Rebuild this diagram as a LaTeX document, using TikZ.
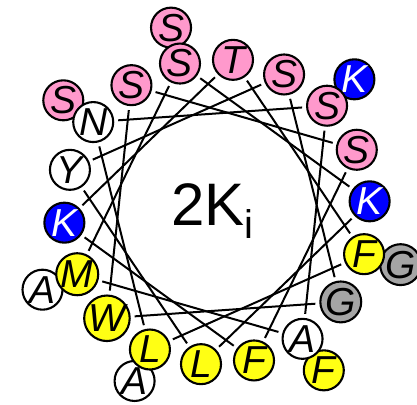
\documentclass[tikz,border=0pt]{standalone}
\usepackage{fontspec}
\setmainfont{Liberation Sans}
\begin{document}
\begin{tikzpicture}[x=1pt,y=1pt,
  res/.style={circle,draw=black,line width=2.1pt,minimum size=40pt,inner sep=0pt,font=\fontsize{39}{39}\selectfont\itshape},
  stres/.style={res,fill=wheelpink},
  lysres/.style={res,fill=wheelblue,text=white},
  hydres/.style={res,fill=wheelyellow},
  glyres/.style={res,fill=wheelgray},
  neures/.style={res,fill=white},
  link/.style={line width=2pt,shorten <=4pt,shorten >=4pt}]
\definecolor{wheelpink}{RGB}{255,153,204}
\definecolor{wheelblue}{RGB}{0,0,255}
\definecolor{wheelyellow}{RGB}{255,255,20}
\definecolor{wheelgray}{RGB}{165,165,165}
\useasboundingbox (-217,-192) rectangle (200,212);
\node[stres] (o0) at (104:190) {S};
\node[lysres] (o3) at (44:191) {K};
\node[glyres] (o6) at (-16:191) {G};
\node[hydres] (o8) at (-56:191) {F};
\node[neures] (o11) at (-116:188) {A};
\node[neures] (o13) at (-156:191) {A};
\node[stres] (o16) at (144:190) {S};
\node[stres] (r0) at (104:153) {S};
\node[stres] (r1) at (84:153) {T};
\node[stres] (r2) at (64:153) {S};
\node[stres] (r3) at (44:153) {S};
\node[stres] (r4) at (24:153) {S};
\node[lysres] (r5) at (4:153) {K};
\node[hydres] (r6) at (-16:153) {F};
\node[glyres] (r7) at (-36:153) {G};
\node[neures] (r8) at (-56:153) {A};
\node[hydres] (r9) at (-76:153) {F};
\node[hydres] (r10) at (-96:153) {L};
\node[hydres] (r11) at (-116:153) {L};
\node[hydres] (r12) at (-136:153) {W};
\node[hydres] (r13) at (-156:153) {M};
\node[lysres] (r14) at (-176:153) {K};
\node[neures] (r15) at (164:153) {Y};
\node[neures] (r16) at (144:153) {N};
\node[stres] (r17) at (124:153) {S};
\draw[link] (r0) -- (r5);
\draw[link] (r1) -- (r6);
\draw[link] (r2) -- (r7);
\draw[link] (r3) -- (r8);
\draw[link] (r4) -- (r9);
\draw[link] (r5) -- (r10);
\draw[link] (r6) -- (r11);
\draw[link] (r7) -- (r12);
\draw[link] (r8) -- (r13);
\draw[link] (r9) -- (r14);
\draw[link] (r10) -- (r15);
\draw[link] (r11) -- (r16);
\draw[link] (r12) -- (r17);
\draw[link] (r13) -- (r0);
\draw[link] (r14) -- (r1);
\draw[link] (r15) -- (r2);
\draw[link] (r16) -- (r3);
\draw[link] (r17) -- (r4);
\node[anchor=base west,inner sep=0pt] (title) at (-46,-13) {\fontsize{60}{60}\selectfont 2K\raisebox{-13pt}{\fontsize{40}{40}\selectfont i}};
\end{tikzpicture}
\end{document}
